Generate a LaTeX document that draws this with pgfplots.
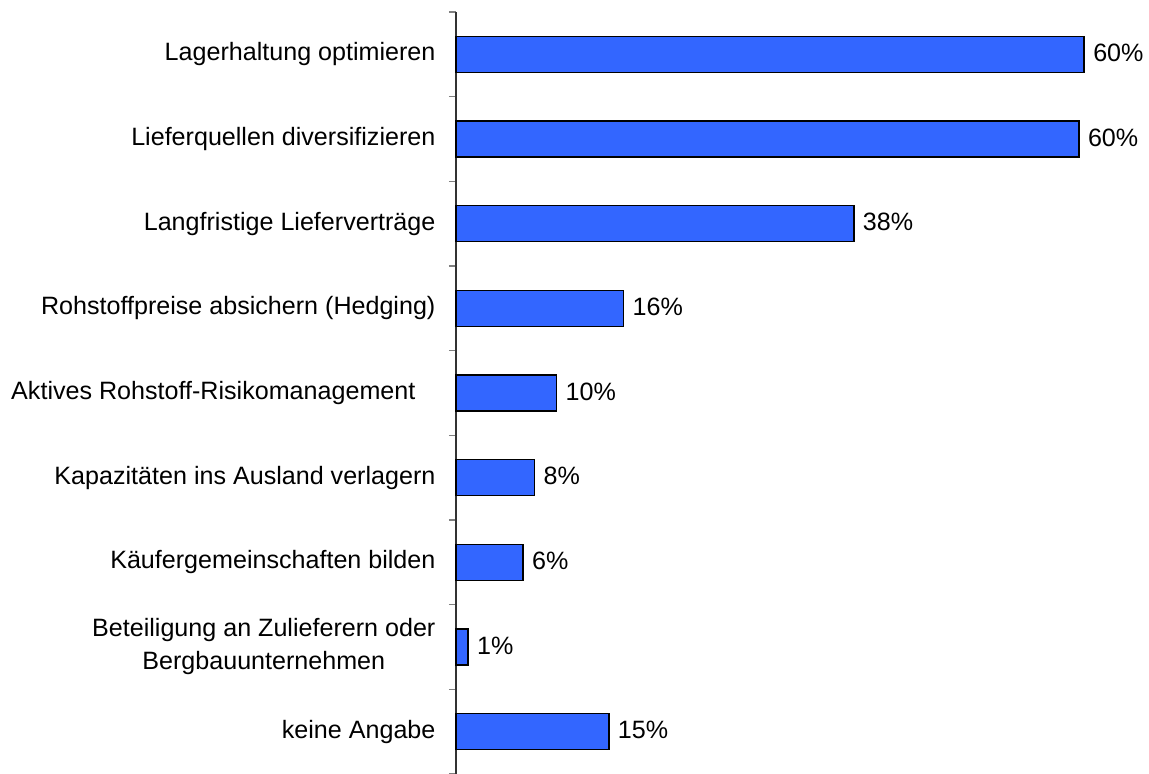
\documentclass[border=0pt]{standalone}
\usepackage{pgfplots}
\pgfplotsset{compat=1.18}
\usepackage{fontspec}
\setmainfont{Liberation Sans}
\definecolor{barblue}{RGB}{51,102,255}
\begin{document}
\fontsize{25.1bp}{33bp}\selectfont
\begin{tikzpicture}
\path[use as bounding box] (-456bp,0) rectangle (693bp,774bp);
\begin{axis}[
  at={(0,0)}, anchor=south west,
  scale only axis, width=680.5bp, height=762bp,
  xmin=0, xmax=65, ymin=-0.5, ymax=8.5, y dir=reverse,
  xbar, bar width=36bp,
  axis x line=none, axis y line*=left,
  y axis line style={line width=1.2bp, black!80},
  ytick={0,...,8},
  major tick length=0pt,
  minor ytick={-0.5,0.5,...,8.5},
  minor tick length=7bp,
  tick align=outside,
  minor tick style={line width=1.2bp, black!50},
  yticklabels={Lagerhaltung optimieren, Lieferquellen diversifizieren, Langfristige Lieferverträge, Rohstoffpreise absichern (Hedging), {Aktives Rohstoff-Risikomanagement\hspace{0.8em}}, Kapazitäten ins Ausland verlagern, Käufergemeinschaften bilden, {Beteiligung an Zulieferern oder\\Bergbauunternehmen}, keine Angabe},
  yticklabel style={align=center, xshift=-12bp, font=\fontsize{25.1bp}{33bp}\selectfont},
  nodes near coords, point meta=explicit symbolic,
  nodes near coords style={anchor=west, yshift=1.5bp, font=\fontsize{25.1bp}{30bp}\selectfont, black},
  clip=false,
]
\addplot[fill=barblue, draw=black, line width=1.5bp] coordinates {
  (60.0,0) [60\%]
  (59.5,1) [60\%]
  (38.0,2) [38\%]
  (16.0,3) [16\%]
  (9.6,4) [10\%]
  (7.5,5) [8\%]
  (6.4,6) [6\%]
  (1.15,7) [1\%]
  (14.6,8) [15\%]
};
\end{axis}
\end{tikzpicture}
\end{document}
